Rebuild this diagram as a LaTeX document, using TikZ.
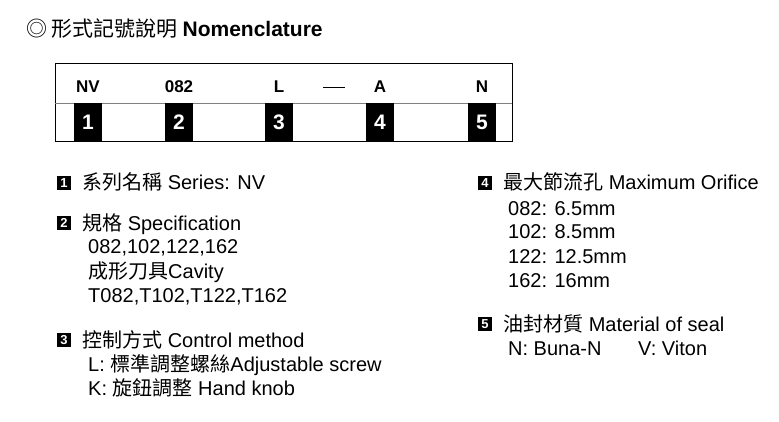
\documentclass[tikz,border=0pt]{standalone}
\usepackage{fontspec}
\setmainfont{Liberation Sans}
\newfontfamily\cjk{Noto Sans CJK TC}
\usetikzlibrary{positioning}
\begin{document}
\begin{tikzpicture}[x=1pt,y=-1pt,
    txt/.style={anchor=base west,inner sep=0pt,font=\fontsize{20}{22}\selectfont},
    code/.style={anchor=base,inner sep=0pt,font=\fontsize{17}{18}\selectfont\bfseries},
    numbox/.style={fill=black,text=white,minimum width=28pt,minimum height=38pt,inner sep=0pt,font=\fontsize{21}{22}\selectfont\bfseries},
    badge/.style={fill=black,text=white,minimum size=14pt,inner sep=0pt,font=\fontsize{13}{13}\selectfont\bfseries}]
    \useasboundingbox (0,0) rectangle (779,422);
    % Title
    \node[txt,font=\fontsize{21}{22}\selectfont] (title) at (26,37) {\cjk ◎ 形式記號說明 \textbf{\rmfamily Nomenclature}};
    % Code frame
    \draw[thick] (55,63) rectangle (512,141);
    \draw[gray] (55,103) -- (512,103);
    \foreach \n/\x/\c in {1/88/NV,2/179/082,3/279/L,4/380/A,5/482/N}{
        \node[numbox] (box\n) at (\x,122) {\n};
        \node[code] (code\n) at (\x,93) {\c};
    }
    \node[code] (dash) at (334,93) {\rule[0.33em]{22pt}{0.6pt}};
    % Left column
    \node[badge] (b1) at (64,183) {1};
    \node[txt] (t1) at (82,190) {{\cjk 系列名稱} Series: NV};
    \node[badge] (b2) at (64,223) {2};
    \node[txt] (t2) at (82,230) {{\cjk 規格} Specification};
    \node[txt] (t2a) at (88,254) {082,102,122,162};
    \node[txt] (t2b) at (88,278) {{\cjk 成形刀具}Cavity};
    \node[txt] (t2c) at (88,302) {T082,T102,T122,T162};
    \node[badge] (b3) at (64,340) {3};
    \node[txt] (t3) at (82,347) {{\cjk 控制方式} Control method};
    \node[txt] (t3a) at (88,371) {L: {\cjk 標準調整螺絲}Adjustable screw};
    \node[txt] (t3b) at (88,395) {K: {\cjk 旋鈕調整} Hand knob};
    % Right column
    \node[badge] (b4) at (485,183) {4};
    \node[txt] (t4) at (503,190) {{\cjk 最大節流孔} Maximum Orifice};
    \node[txt] (t4a) at (508,215) {082: 6.5mm};
    \node[txt] (t4b) at (508,239) {102: 8.5mm};
    \node[txt] (t4c) at (508,263) {122: 12.5mm};
    \node[txt] (t4d) at (508,287) {162: 16mm};
    \node[badge] (b5) at (485,324) {5};
    \node[txt] (t5) at (503,331) {{\cjk 油封材質} Material of seal};
    \node[txt] (t5a) at (508,355) {N: Buna-N};
    \node[txt] (t5b) at (638,355) {V: Viton};
\end{tikzpicture}
\end{document}
